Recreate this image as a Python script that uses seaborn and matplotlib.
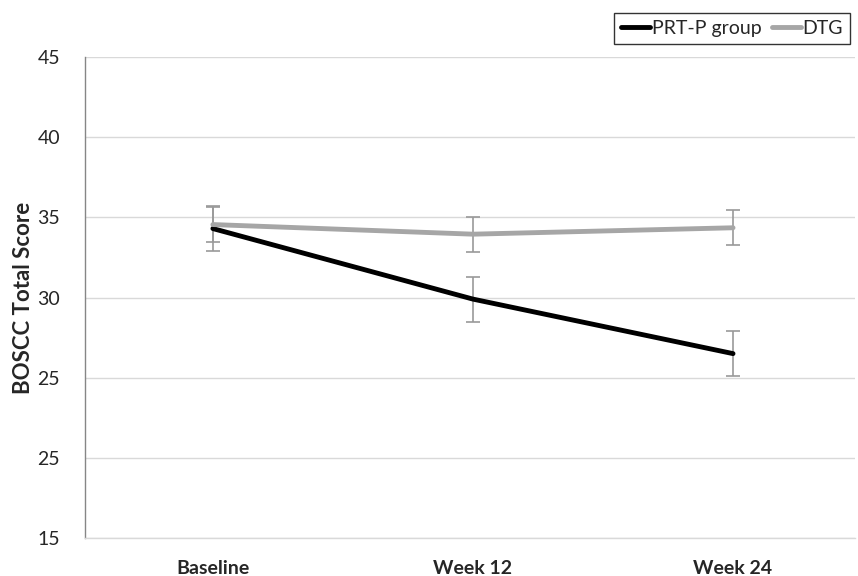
import matplotlib
matplotlib.use("Agg")
import matplotlib.pyplot as plt
import seaborn as sns
import pandas as pd

timepoints = ["Baseline", "Week 12", "Week 24"]
prtp_mean = [34.3, 29.9, 26.5]
prtp_err = [1.4, 1.4, 1.4]
dtg_mean = [34.55, 33.95, 34.35]
dtg_err = [1.1, 1.1, 1.1]
y_ticks = [15, 20, 25, 30, 35, 40, 45]
y_tick_labels = ["15", "25", "25", "30", "35", "40", "45"]
series_names = ["PRT-P group", "DTG"]

sns.set_theme(style="white")
plt.rcParams["font.family"] = ["Lato", "DejaVu Sans"]

df = pd.DataFrame({
    "pos": list(range(len(timepoints))) * 2,
    "score": prtp_mean + dtg_mean,
    "group": [series_names[0]] * 3 + [series_names[1]] * 3,
})

fig = plt.figure(figsize=(8.58, 5.76), dpi=100)
ax = fig.add_axes([0.099, 0.066, 0.8975, 0.835])

pos = list(range(len(timepoints)))
ax.errorbar(pos, prtp_mean, yerr=prtp_err, fmt="none", ecolor="#999999",
            elinewidth=1.2, capsize=5, capthick=1.2, zorder=2)
ax.errorbar(pos, dtg_mean, yerr=dtg_err, fmt="none", ecolor="#999999",
            elinewidth=1.2, capsize=5, capthick=1.2, zorder=2)

sns.lineplot(data=df, x="pos", y="score", hue="group",
             palette={series_names[0]: "#000000", series_names[1]: "#a6a6a6"},
             linewidth=3.5, ax=ax, zorder=3, legend=True)

ax.set_xlim(-0.492, 2.469)
ax.set_ylim(15, 45)
ax.set_xticks(pos)
ax.set_xticklabels(timepoints, fontsize=14, fontweight="bold")
ax.set_yticks(y_ticks)
ax.set_yticklabels(y_tick_labels, fontsize=14)
ax.tick_params(axis="y", length=0, pad=18)
ax.tick_params(axis="x", length=0, pad=16)
ax.set_xlabel("")
ax.set_ylabel("BOSCC Total Score", fontsize=16, fontweight="bold", labelpad=2)

ax.yaxis.grid(True, color="#d9d9d9", linewidth=1)
ax.xaxis.grid(False)
ax.set_axisbelow(True)
for s in ["top", "right"]:
    ax.spines[s].set_visible(False)
ax.spines["left"].set_color("#868686")
ax.spines["left"].set_linewidth(1)
ax.spines["bottom"].set_color("#d9d9d9")
ax.spines["bottom"].set_linewidth(1)

leg = ax.legend(loc="upper right", bbox_to_anchor=(0.9935, 1.0915), ncol=2,
                frameon=True, fancybox=False, edgecolor="#000000",
                fontsize=14, handlelength=1.5, handletextpad=0.1,
                columnspacing=0.5, borderpad=0.35, borderaxespad=0)
leg.get_frame().set_linewidth(1)
for line in leg.get_lines():
    line.set_linewidth(3.5)

fig.savefig("out.png", dpi=100)
